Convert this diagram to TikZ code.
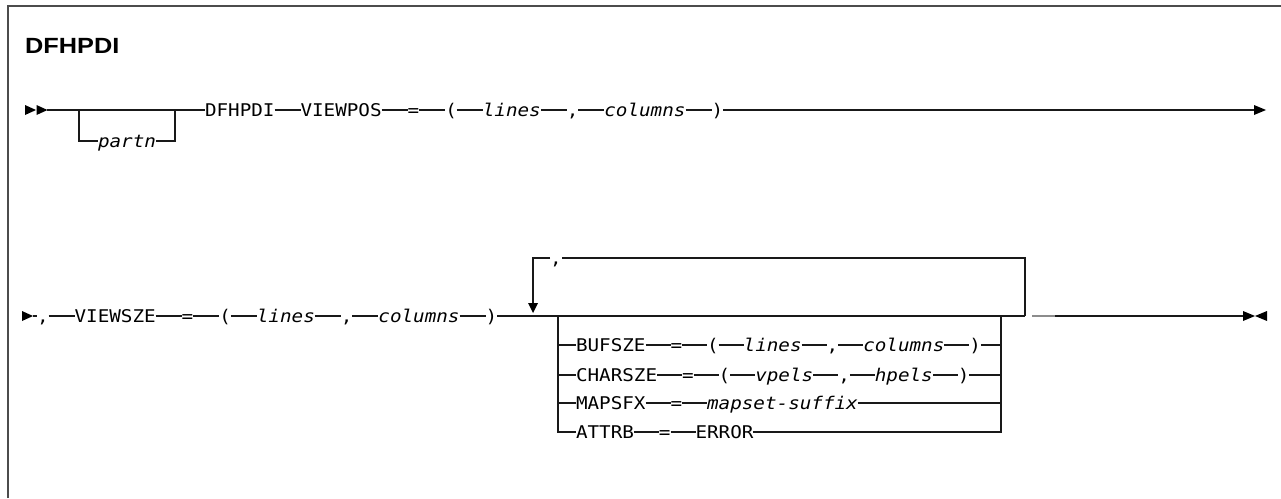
\documentclass[tikz,border=0pt]{standalone}
\usepackage{fontspec}
\usetikzlibrary{positioning}
\newfontfamily\rrfont[FakeStretch=1.1]{DejaVu Sans Mono}
\newfontfamily\ttlfont[FakeStretch=1.15]{Liberation Sans}
\tikzset{
  tok/.style={inner sep=0pt, outer sep=0pt, text height=12.8pt, text depth=0pt,
    font=\rrfont\fontsize{17.5pt}{20pt}\selectfont},
  var/.style={tok, font=\rrfont\itshape\fontsize{17.5pt}{20pt}\selectfont},
  rail/.style={line width=1.2pt, black!90},
}
\begin{document}
\begin{tikzpicture}[x=1pt,y=-1pt,line cap=butt,line join=miter]
  \useasboundingbox (0,0) rectangle (1281,498);
  % frame and heading
  \draw[line width=1.5pt, black!70] (8,498) -- (8,6) -- (1281,6);
  \node[anchor=base west, inner sep=0pt, font=\ttlfont\bfseries\fontsize{22pt}{24pt}\selectfont] (ttl) at (25,53) {DFHPDI};

  % first line
  \fill (25,105) -- (36,110) -- (25,115) -- cycle;
  \fill (36.5,105) -- (47.5,110) -- (36.5,115) -- cycle;
  \coordinate (s1) at (47,110);
  \coordinate (b1) at (79,110);
  \coordinate (b2) at (175,110);
  \node[tok, anchor=west] (dfh) at (205,110) {DFHPDI};
  \node[tok, right=26pt of dfh] (vpos) {VIEWPOS};
  \node[tok, right=26pt of vpos] (eqa) {=};
  \node[tok, right=26pt of eqa] (lpa) {(};
  \node[var, right=26pt of lpa] (lna) {lines};
  \node[tok, right=26pt of lna] (cma) {,};
  \node[var, right=26pt of cma] (cola) {columns};
  \node[tok, right=26pt of cola] (rpa) {)};
  \node[var] (partn) at (127,141) {partn};
  \coordinate (e1) at (1255,110);
  \draw[rail] (s1) -- (dfh) -- (vpos) -- (eqa) -- (lpa) -- (lna) -- (cma) -- (cola) -- (rpa) -- (e1);
  \draw[rail] (b1) |- (partn);
  \draw[rail] (partn) -| (b2);
  \fill (1254,105) -- (1266,110) -- (1254,115) -- cycle;

  % second line
  \fill (22,311) -- (33,316) -- (22,321) -- cycle;
  \coordinate (s2) at (33,316);
  \node[tok, anchor=west] (cmb) at (37,316) {,};
  \node[tok, right=26pt of cmb] (vsze) {VIEWSZE};
  \node[tok, right=26pt of vsze] (eqb) {=};
  \node[tok, right=26pt of eqb] (lpb) {(};
  \node[var, right=26pt of lpb] (lnb) {lines};
  \node[tok, right=26pt of lnb] (cmc) {,};
  \node[var, right=26pt of cmc] (colb) {columns};
  \node[tok, right=26pt of colb] (rpb) {)};
  \coordinate (jR) at (1025,316);
  \draw[rail] (s2) -- (cmb) -- (vsze) -- (eqb) -- (lpb) -- (lnb) -- (cmc) -- (colb) -- (rpb) -- (jR);
  \draw[line width=1.2pt, black!45] (1032,316) -- (1055,316);
  \coordinate (e2) at (1055,316);
  \coordinate (e2b) at (1244,316);
  \draw[rail] (e2) -- (e2b);
  \fill (1243,311) -- (1255,316) -- (1243,321) -- cycle;
  \fill (1267,311) -- (1255,316) -- (1267,321) -- cycle;

  % repeat loop
  \coordinate (lpTL) at (533,258);
  \coordinate (lpD) at (533,303);
  \node[tok] (lsep) at (556,258) {,};
  \draw[rail] (jR) |- (lsep);
  \draw[rail] (lsep) -| (lpD);
  \fill (528,303) -- (538,303) -- (533,313) -- cycle;

  % choices
  \coordinate (cL) at (558,316);
  \coordinate (cR) at (1001,316);
  \coordinate (cl1) at (558,345);
  \coordinate (cl2) at (558,375);
  \coordinate (cl3) at (558,403);
  \coordinate (cr1) at (1001,345);
  \coordinate (cr2) at (1001,375);
  \coordinate (cr3) at (1001,403);

  \node[tok, anchor=west] (buf) at (576,345) {BUFSZE};
  \node[tok, right=25pt of buf] (eqc) {=};
  \node[tok, right=25pt of eqc] (lpc) {(};
  \node[var, right=25pt of lpc] (lnc) {lines};
  \node[tok, right=25pt of lnc] (cmd) {,};
  \node[var, right=25pt of cmd] (colc) {columns};
  \node[tok, right=25pt of colc] (rpc) {)};
  \draw[rail] (cl1) -- (buf) -- (eqc) -- (lpc) -- (lnc) -- (cmd) -- (colc) -- (rpc) -- (cr1);

  \node[tok, anchor=west] (chr) at (576,375) {CHARSZE};
  \node[tok, right=25pt of chr] (eqd) {=};
  \node[tok, right=25pt of eqd] (lpd) {(};
  \node[var, right=25pt of lpd] (vp) {vpels};
  \node[tok, right=25pt of vp] (cme) {,};
  \node[var, right=25pt of cme] (hp) {hpels};
  \node[tok, right=25pt of hp] (rpd) {)};
  \draw[rail] (cl2) -- (chr) -- (eqd) -- (lpd) -- (vp) -- (cme) -- (hp) -- (rpd) -- (cr2);

  \node[tok, anchor=west] (msfx) at (576,403) {MAPSFX};
  \node[tok, right=25pt of msfx] (eqe) {=};
  \node[var, right=25pt of eqe] (mss) {mapset-suffix};
  \draw[rail] (cl3) -- (msfx) -- (eqe) -- (mss) -- (cr3);

  \node[tok, anchor=west] (attr) at (576,432) {ATTRB};
  \node[tok, right=25pt of attr] (eqf) {=};
  \node[tok, right=25pt of eqf] (err) {ERROR};
  \draw[rail] (cL) |- (attr);
  \draw[rail] (attr) -- (eqf) -- (err);
  \draw[rail] (err) -| (cR);
\end{tikzpicture}
\end{document}
